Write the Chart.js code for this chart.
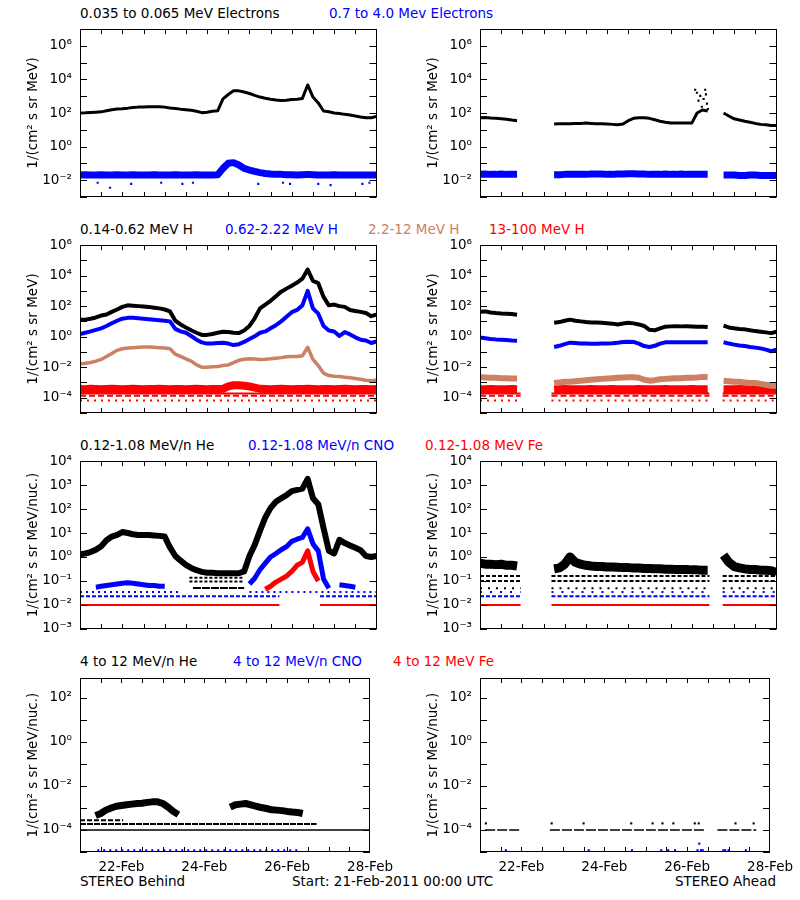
<!DOCTYPE html>
<html>
<head>
<meta charset="utf-8">
<script src="https://cdn.jsdelivr.net/npm/chart.js@4.4.1/dist/chart.umd.min.js"></script>
<style>
  body { margin: 0; background: #fff; width: 800px; height: 900px; position: relative; overflow: hidden; font-family: "DejaVu Sans", sans-serif; }
  canvas { position: absolute; }
  .t { position: absolute; font-size: 13.5px; line-height: 14px; white-space: nowrap; color: #000; }
</style>
</head>
<body>
<div class="t" style="left:80px;top:6px">0.035 to 0.065 MeV Electrons</div>
<div class="t" style="left:329px;top:6px;color:#0000ff">0.7 to 4.0 Mev Electrons</div>

<div class="t" style="left:80px;top:222px">0.14-0.62 MeV H</div>
<div class="t" style="left:225px;top:222px;color:#0000ff">0.62-2.22 MeV H</div>
<div class="t" style="left:368px;top:222px;color:rgb(204,128,100)">2.2-12 MeV H</div>
<div class="t" style="left:489px;top:222px;color:#ff0000">13-100 MeV H</div>

<div class="t" style="left:80px;top:438px">0.12-1.08 MeV/n He</div>
<div class="t" style="left:248px;top:438px;color:#0000ff">0.12-1.08 MeV/n CNO</div>
<div class="t" style="left:425px;top:438px;color:#ff0000">0.12-1.08 MeV Fe</div>

<div class="t" style="left:80px;top:654px">4 to 12 MeV/n He</div>
<div class="t" style="left:233px;top:654px;color:#0000ff">4 to 12 MeV/n CNO</div>
<div class="t" style="left:393px;top:654px;color:#ff0000">4 to 12 MeV Fe</div>

<div class="t" style="left:80px;top:874px">STEREO Behind</div>
<div class="t" style="left:292px;top:874px">Start: 21-Feb-2011 00:00 UTC</div>
<div class="t" style="right:24px;top:874px">STEREO Ahead</div>

<script>
// hours since 21-Feb-2011 00:00 UTC
const hours = [0,3,6,9,12,15,18,21,24,27,30,33,36,39,42,45,48,51,54,57,
  60,63,66,69,72,75,78,81,84,87,90,93,96,99,102,105,108,111,114,117,
  120,123,126,129,132,135,138,141,144,147,150,153,156,159,162,165,168];
const dayTickHours = [24, 72, 120, 168];
const dayLabels = ['22-Feb', '24-Feb', '26-Feb', '28-Feb'];
const minorTickHours = [12,24,36,48,60,72,84,96,108,120,132,144,156];

// ---- electrons ----
const eBehindLow = [100,102,107,112,117,135,158,174,182,195,
  214,224,229,234,234,234,224,200,186,170,
  158,145,126,105,112,126,135,700,1260,2090,
  2090,1780,1450,1120,890,760,660,590,550,575,
  630,660,740,4700,890,400,132,120,100,93,
  83,76,66,58,52,52,63];
const eBehindHigh = [0.020,0.021,0.020,0.020,0.021,0.020,0.020,0.021,0.020,0.020,
  0.021,0.020,0.020,0.020,0.021,0.020,0.020,0.020,0.021,0.020,
  0.020,0.020,0.021,0.020,0.020,0.020,0.021,0.050,0.100,0.110,
  0.080,0.050,0.040,0.033,0.028,0.025,0.023,0.022,0.022,0.021,
  0.021,0.020,0.021,0.022,0.021,0.020,0.020,0.020,0.021,0.020,
  0.020,0.020,0.020,0.020,0.020,0.020,0.020];
const eBehindOutT = [10, 17, 29, 46, 58, 64, 101, 115, 119, 135, 142, 160, 164];
const eBehindOutV = [0.007, 0.0035, 0.006, 0.007, 0.006, 0.007, 0.006, 0.007, 0.006, 0.006, 0.005, 0.006, 0.007];
const eAheadLow = [53,54,50,48,46,42,38,35,null,null,
  null,null,null,null,22,23,23,23,24,24,
  25,24,23,23,22,21,20,22,35,48,
  52,52,48,40,32,28,25,25,25,25,
  25,100,150,130,null,null,100,66,45,38,
  32,28,24,21,20,18,18];
const eAheadHigh = [0.022,0.023,0.022,0.022,0.023,0.022,0.022,0.022,null,null,
  null,null,null,null,0.021,0.021,0.022,0.022,0.022,0.022,
  0.022,0.023,0.023,0.023,0.022,0.022,0.023,0.023,0.024,0.024,
  0.023,0.023,0.022,0.022,0.022,0.023,0.022,0.022,0.023,0.022,
  0.022,0.022,0.022,0.022,null,null,0.020,0.020,0.020,0.019,
  0.019,0.020,0.020,0.019,0.019,0.019,0.019];
const eAheadSpikeT = [121.9,122.9,123.8,124.8,125.7,126.7,127.6,128.0,128.6,129.1];
const eAheadSpikeV = [2450,1600,550,1050,235,680,2450,1290,360,170];

// ---- protons ----
const hBehind1 = [12.6,13,15,18,24,28,42,60,89,112,
  107,100,95,89,79,71,60,45,11,6.3,
  4.0,2.6,1.8,1.3,1.3,1.5,1.8,2.1,2.0,1.8,
  1.7,2.5,5,16,71,126,224,450,890,1400,
  2200,3500,6300,25000,4500,3200,400,112,126,100,
  89,56,48,42,35,22,28];
const hBehind2 = [1.5,1.8,2.2,2.8,3.5,5.0,7.6,11,15,17,
  17,16,15,14,13,12,11,10,3.2,2.2,
  1.8,1.1,0.63,0.42,0.35,0.35,0.38,0.40,0.35,0.28,
  0.32,0.45,0.7,1.05,1.8,2.2,3.5,5.6,10,20,
  40,56,112,1000,71,32,5.0,2.5,2.2,1.1,
  2.0,1.4,0.9,0.63,0.56,0.38,0.48];
const hBehind3 = [0.016,0.018,0.020,0.025,0.032,0.050,0.079,0.126,0.16,0.18,
  0.19,0.20,0.21,0.21,0.20,0.19,0.18,0.16,0.071,0.050,
  0.035,0.025,0.014,0.010,0.010,0.0105,0.011,0.0126,0.014,0.020,
  0.028,0.033,0.035,0.034,0.032,0.033,0.035,0.038,0.042,0.048,
  0.050,0.050,0.056,0.20,0.032,0.0126,0.004,0.0028,0.0025,0.0024,
  0.0022,0.002,0.0018,0.0016,0.0014,0.0013,0.0014];
const hBehind4 = [3.7e-4,3.6e-4,3.8e-4,3.7e-4,3.6e-4,3.7e-4,3.8e-4,3.7e-4,3.6e-4,3.7e-4,
  3.8e-4,3.7e-4,3.6e-4,3.7e-4,3.7e-4,3.8e-4,3.7e-4,3.6e-4,3.7e-4,3.7e-4,
  3.6e-4,3.7e-4,3.8e-4,3.7e-4,3.6e-4,3.7e-4,3.7e-4,3.8e-4,5.5e-4,6.5e-4,
  6.5e-4,6.0e-4,5.5e-4,4.5e-4,3.8e-4,3.7e-4,3.6e-4,3.7e-4,3.8e-4,3.7e-4,
  3.6e-4,3.7e-4,3.7e-4,3.8e-4,3.7e-4,3.6e-4,3.7e-4,3.7e-4,3.6e-4,3.7e-4,
  3.8e-4,3.7e-4,3.6e-4,3.7e-4,3.7e-4,3.6e-4,3.7e-4];
const hAhead1 = [43,45,38,35,33,32,30,27,null,null,
  null,null,null,null,8,9,11,13,11,10,
  9,8.5,8.3,8,7.6,7.1,6.3,7.2,8,7.4,
  6.3,5,2.8,2.6,3.5,4.5,4.7,4.8,4.7,4.8,
  4.6,4.4,4.4,4.2,null,null,5.2,4.0,3.5,3.2,
  3.0,2.6,2.3,2.1,1.9,1.7,2.1];
const hAhead2 = [0.87,0.79,0.71,0.66,0.63,0.60,0.56,0.54,null,null,
  null,null,null,null,0.21,0.25,0.32,0.40,0.38,0.35,
  0.35,0.34,0.34,0.35,0.35,0.37,0.40,0.45,0.47,0.45,
  0.35,0.24,0.21,0.25,0.35,0.42,0.42,0.42,0.42,0.42,
  0.42,0.42,0.42,0.42,null,null,0.43,0.35,0.30,0.26,
  0.24,0.21,0.19,0.17,0.14,0.11,0.14];
const hAhead3 = [0.0022,0.0021,0.0020,0.0020,0.0019,0.0019,0.0018,0.0018,null,null,
  null,null,null,null,0.0009,0.0010,0.0011,0.0011,0.0012,0.0013,
  0.0014,0.0015,0.0016,0.0017,0.0018,0.0019,0.0020,0.0021,0.0022,0.0022,
  0.0020,0.0015,0.0013,0.0014,0.0016,0.0017,0.0018,0.0019,0.0019,0.0020,
  0.0020,0.0021,0.0023,0.0022,null,null,0.0013,0.0012,0.0011,0.0011,
  0.0010,0.0009,0.0009,0.0008,0.0007,0.0006,0.0006];
const hAhead4 = [3.6e-4,3.5e-4,3.7e-4,3.6e-4,3.5e-4,3.6e-4,3.7e-4,3.6e-4,null,null,
  null,null,null,null,3.5e-4,3.6e-4,3.7e-4,3.6e-4,3.5e-4,3.6e-4,
  3.6e-4,3.7e-4,3.6e-4,3.5e-4,3.6e-4,3.7e-4,3.6e-4,3.6e-4,3.5e-4,3.6e-4,
  3.7e-4,3.6e-4,3.5e-4,3.6e-4,3.6e-4,3.7e-4,3.6e-4,3.5e-4,3.6e-4,3.6e-4,
  3.7e-4,3.6e-4,3.5e-4,3.6e-4,null,null,3.6e-4,3.5e-4,3.6e-4,3.7e-4,
  3.6e-4,3.5e-4,3.6e-4,3.6e-4,3.7e-4,3.6e-4,3.5e-4];
const hFloorLevels = [1.9e-4, 1.35e-4, 6.4e-5];

// ---- 0.12-1.08 MeV/n heavy ions ----
const heBehind = [1.3,1.4,1.6,2.0,2.8,5.0,7.1,8.3,11,10,
  8.9,8.3,8.3,8.3,7.9,7.6,7.1,2.5,1.1,0.7,
  0.47,0.35,0.28,0.24,0.22,0.22,0.21,0.21,0.21,0.21,
  0.21,0.25,1.1,3.2,12.6,45,112,200,280,380,
  560,630,710,1800,280,160,16,1.8,1.4,5.2,
  3.8,3.0,2.4,1.9,1.1,1.0,1.1];
const cnoBehind = [null,null,null,0.055,0.06,0.065,0.07,0.075,0.08,0.085,
  0.08,0.075,0.07,0.065,0.065,0.06,0.06,null,null,null,
  null,null,null,null,null,null,null,null,null,null,
  null,null,0.075,0.13,0.3,0.55,1.0,1.4,2.0,2.7,
  4.5,5.5,6.5,15,3.5,1.8,0.12,0.05,null,0.07,
  0.065,0.06,0.055,null,null,null,null];
const feBehind = [null,null,null,null,null,null,null,null,null,null,
  null,null,null,null,null,null,null,null,null,null,
  null,null,null,null,null,null,null,null,null,null,
  null,null,null,null,null,0.045,0.06,0.09,0.12,0.16,
  0.25,0.45,0.6,1.8,0.25,0.1,null,null,null,null,
  null,null,null,null,null,null,null];
const heAhead = [0.55,0.5,0.5,0.48,0.5,0.45,0.45,0.42,null,null,
  null,null,null,null,0.32,0.35,0.5,1.0,0.6,0.5,
  0.45,0.42,0.40,0.40,0.38,0.38,0.37,0.36,0.36,0.35,
  0.35,0.33,0.33,0.32,0.32,0.31,0.31,0.30,0.30,0.30,
  0.29,0.29,0.28,0.28,null,null,1.2,0.6,0.4,0.35,
  0.32,0.3,0.3,0.28,0.28,0.27,0.22];
const heQuietLevels = [0.135, 0.095, 0.051];
const heAheadLevels = [0.16, 0.1, 0.05];
const cnoFloorLevels = [0.035, 0.023];
const feFloorLevel = 0.01;

// ---- 4-12 MeV/n heavy ions ----
const he4Behind = [null,null,null,4.5e-4,5.6e-4,8e-4,1e-3,1.2e-3,1.3e-3,1.4e-3,
  1.5e-3,1.6e-3,1.65e-3,1.8e-3,1.9e-3,1.9e-3,1.6e-3,1.1e-3,7e-4,5e-4,
  null,null,null,null,null,null,null,null,null,1.1e-3,
  1.4e-3,1.5e-3,1.6e-3,1.4e-3,1.2e-3,1.05e-3,9.5e-4,8.3e-4,8e-4,7.6e-4,
  7e-4,6.6e-4,6.3e-4,5.6e-4,null,null,null,null,null,null,
  null,null,null,null,null,null,null];
const he4FloorLevels = [2.8e-4, 1.85e-4, 1.0e-4];
const cno4FloorLevel = 1.2e-5;
const he4AheadDotT = [3.4,41.5,60,87.6,100,105.7,112,124.4,126.7,148,158.5];
const he4AheadDotV = [2e-4,2e-4,2e-4,2e-4,2e-4,2e-4,2e-4,2e-4,2e-4,2e-4,2e-4];
const cno4AheadDotT = [15,63,88,105,109,113,126,127,128,129,141,142,144,154];
const cno4AheadDotV = [1.2e-5,1.2e-5,1.2e-5,1.2e-5,1.2e-5,1.2e-5,1.2e-5,2.4e-5,1.2e-5,1.2e-5,1.2e-5,1.2e-5,1.2e-5,1.2e-5];

// data coverage spans (hours)
const behindSpans = [[0, 168]];
const aheadSpans = [[0, 23], [40.5, 130], [137.5, 168]];

const BLUE = '#0000ff', RED = '#ff0000', TAN = 'rgb(204,128,100)', BLACK = '#000000';
const FONT = { family: '"DejaVu Sans", sans-serif', size: 13.5 };
const SUP = { '0': '⁰', '1': '¹', '2': '²', '3': '³', '4': '⁴', '5': '⁵', '6': '⁶', '7': '⁷', '8': '⁸', '9': '⁹', '-': '⁻' };

const series = vals => vals.map((v, i) => ({ x: hours[i], y: v }));
const pairs = (ts, vs) => ts.map((t, i) => ({ x: t, y: vs[i] }));
function level(v, spans) {
    const pts = [];
    spans.forEach(([a, b]) => pts.push({ x: a, y: v }, { x: b, y: v }, { x: b, y: null }));
    return pts;
}

function line(data, color, width, dash) {
    return { data, borderColor: color, backgroundColor: color, borderWidth: width, borderDash: dash || [],
        pointRadius: 0, spanGaps: false, clip: 0, borderJoinStyle: 'round', borderCapStyle: 'butt' };
}
function dots(data, color, size) {
    return { data, showLine: false, pointStyle: 'rect', pointRadius: size, pointBorderWidth: 0,
        backgroundColor: color, borderColor: color, clip: 0 };
}

// box with inward tick marks, IDL style
const idlFrame = {
    id: 'idlFrame',
    afterDatasetsDraw(chart) {
        const { ctx, chartArea: a, scales: { x, y } } = chart;
        ctx.save();
        ctx.strokeStyle = '#000';
        ctx.lineWidth = 1;
        ctx.strokeRect(Math.round(a.left) + 0.5, Math.round(a.top) + 0.5, Math.round(a.width) - 1, Math.round(a.height) - 1);
        ctx.beginPath();
        minorTickHours.forEach(h => {
            const px = Math.round(x.getPixelForValue(h)) + 0.5;
            ctx.moveTo(px, a.bottom); ctx.lineTo(px, a.bottom - 5);
            ctx.moveTo(px, a.top); ctx.lineTo(px, a.top + 5);
        });
        y.ticks.forEach(t => {
            const py = Math.round(y.getPixelForValue(t.value)) + 0.5;
            ctx.moveTo(a.left, py); ctx.lineTo(a.left + 7, py);
            ctx.moveTo(a.right, py); ctx.lineTo(a.right - 7, py);
        });
        ctx.stroke();
        ctx.restore();
    }
};

function panel(left, top, yMin, yMax, labelled, yTitle, bottom, datasets) {
    const c = document.createElement('canvas');
    const h = bottom ? 230 : 200;
    c.width = 400; c.height = h;
    c.style.left = left + 'px';
    c.style.top = (top - 10) + 'px';
    document.body.appendChild(c);

    const lo = Math.round(Math.log10(yMin)), hi = Math.floor(Math.log10(yMax) + 1e-9);
    const decades = [];
    for (let e = lo; e <= hi; e++) decades.push(Math.pow(10, e));

    new Chart(c, {
        type: 'line',
        data: { datasets },
        options: {
            responsive: false, animation: false, devicePixelRatio: 1,
            layout: { padding: { left: 0, right: 23.5, top: 10, bottom: bottom ? 0 : 10 } },
            plugins: { legend: { display: false }, tooltip: { enabled: false } },
            elements: { line: { tension: 0 } },
            scales: {
                x: {
                    type: 'linear', min: 0, max: 168,
                    grid: { display: false, drawTicks: false }, border: { display: false },
                    afterBuildTicks: s => { s.ticks = dayTickHours.map(v => ({ value: v })); },
                    ticks: { display: bottom, autoSkip: false, maxRotation: 0, padding: 7, color: '#000', font: FONT,
                        callback: (v, i) => dayLabels[i] },
                    afterFit: s => { s.height = bottom ? 40 : 0; }
                },
                y: {
                    type: 'logarithmic', min: yMin, max: yMax,
                    grid: { display: false, drawTicks: false }, border: { display: false },
                    afterBuildTicks: s => { s.ticks = decades.map(v => ({ value: v })); },
                    ticks: { autoSkip: false, padding: 8, color: '#000', font: FONT,
                        callback: v => {
                            const e = Math.round(Math.log10(v));
                            return labelled.includes(e) ? '10' + String(e).split('').map(ch => SUP[ch]).join('') : '';
                        } },
                    title: { display: true, text: yTitle, color: '#000', font: FONT, padding: { top: 25, bottom: 0 } },
                    afterFit: s => { s.width = 80; }
                }
            }
        },
        plugins: [idlFrame]
    });
}

const unitE = '1/(cm² s sr MeV)';
const unitN = '1/(cm² s sr MeV/nuc.)';

// row 1: electrons
panel(0, 23, 1e-3, 1e7, [-2, 0, 2, 4, 6], unitE, false, [
    line(series(eBehindLow), BLACK, 3),
    dots(pairs(eBehindOutT, eBehindOutV), BLUE, 1.5),
    line(series(eBehindHigh), BLUE, 7)
]);
panel(400, 23, 1e-3, 1e7, [-2, 0, 2, 4, 6], unitE, false, [
    dots(pairs(eAheadSpikeT, eAheadSpikeV), BLACK, 1.5),
    line(series(eAheadLow), BLACK, 3),
    line(series(eAheadHigh), BLUE, 7)
]);

// row 2: protons
panel(0, 239, 1e-5, 1e6, [-4, -2, 0, 2, 4, 6], unitE, false, [
    line(series(hBehind1), BLACK, 4),
    line(series(hBehind2), BLUE, 4),
    line(series(hBehind3), TAN, 3.5),
    line(series(hBehind4), RED, 8),
    line(level(hFloorLevels[0], behindSpans), RED, 2),
    line(level(hFloorLevels[1], behindSpans), RED, 2, [6, 3]),
    line(level(hFloorLevels[2], behindSpans), RED, 2, [2, 5])
]);
panel(400, 239, 1e-5, 1e6, [-4, -2, 0, 2, 4, 6], unitE, false, [
    line(series(hAhead1), BLACK, 4),
    line(series(hAhead2), BLUE, 4),
    line(series(hAhead3), TAN, 6),
    line(series(hAhead4), RED, 8),
    line(level(hFloorLevels[0], aheadSpans), RED, 2),
    line(level(hFloorLevels[1], aheadSpans), RED, 2, [6, 3]),
    line(level(hFloorLevels[2], aheadSpans), RED, 2, [2, 5])
]);

// row 3: 0.12-1.08 MeV/n
panel(0, 455, 1e-3, 1e4, [-3, -2, -1, 0, 1, 2, 3, 4], unitN, false, [
    line(series(feBehind), RED, 5),
    line(series(cnoBehind), BLUE, 5),
    line(series(heBehind), BLACK, 6),
    line(level(heQuietLevels[0], [[62, 93]]), BLACK, 2, [3, 2]),
    line(level(heQuietLevels[1], [[62, 93]]), BLACK, 2, [3, 2]),
    line(level(heQuietLevels[2], [[64, 93]]), BLACK, 2, [8, 1]),
    line(level(cnoFloorLevels[0], [[0, 56], [96, 168]]), BLUE, 2, [2, 4]),
    line(level(feFloorLevel, [[0, 113], [136, 168]]), RED, 2),
    line(level(cnoFloorLevels[1], [[0, 113], [136, 168]]), BLUE, 2, [4, 2])
]);
panel(400, 455, 1e-3, 1e4, [-3, -2, -1, 0, 1, 2, 3, 4], unitN, false, [
    line(series(heAhead), BLACK, 9),
    line(level(heAheadLevels[0], aheadSpans), BLACK, 2, [4, 2]),
    line(level(heAheadLevels[1], aheadSpans), BLACK, 2, [4, 2]),
    line(level(heAheadLevels[2], aheadSpans), BLACK, 2, [2, 6]),
    line(level(cnoFloorLevels[0], aheadSpans), BLUE, 2, [2, 8]),
    line(level(feFloorLevel, aheadSpans), RED, 2),
    line(level(cnoFloorLevels[1], aheadSpans), BLUE, 2, [4, 2])
]);

// row 4: 4-12 MeV/n
panel(0, 672, 1e-5, 800, [-4, -2, 0, 2], unitN, true, [
    line(series(he4Behind), BLACK, 7),
    line(level(he4FloorLevels[0], [[0, 25]]), BLACK, 2, [5, 2]),
    line(level(he4FloorLevels[1], [[0, 137]]), BLACK, 2, [6, 1]),
    line(level(he4FloorLevels[2], behindSpans), BLACK, 1.5),
    line(level(cno4FloorLevel, [[10, 128]]), BLUE, 2, [2, 4])
]);
panel(400, 672, 1e-5, 800, [-4, -2, 0, 2], unitN, true, [
    dots(pairs(he4AheadDotT, he4AheadDotV), BLACK, 1.5),
    dots(pairs(cno4AheadDotT, cno4AheadDotV), BLUE, 1.5),
    line(level(he4FloorLevels[2], [[3, 23], [40.5, 130], [137.5, 160]]), BLACK, 1.5, [10, 2])
]);
</script>
</body>
</html>
